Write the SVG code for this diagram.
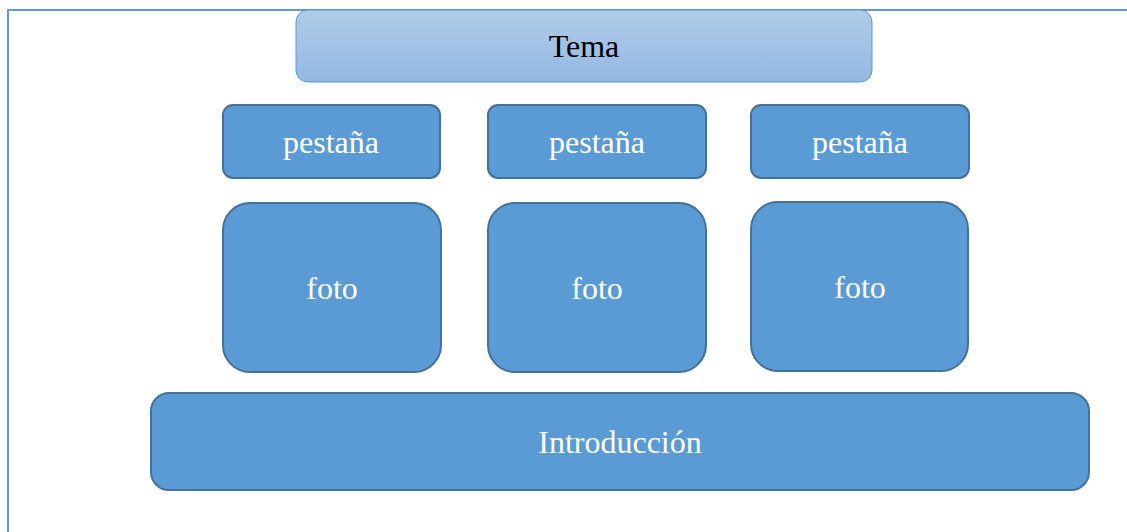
<svg xmlns="http://www.w3.org/2000/svg" width="1127" height="532" viewBox="0 0 1127 532">
<defs>
<linearGradient id="g" x1="0" y1="0" x2="0" y2="1">
<stop offset="0" stop-color="#b2cbe9"/>
<stop offset="1" stop-color="#93b8e3"/>
</linearGradient>
<style>
.n{fill:#5b9bd5;stroke:#41719c;stroke-width:2}
.t{font-family:"Liberation Serif","Times New Roman",serif;font-size:32px;text-anchor:middle;fill:#ffffff}
</style>
</defs>
<rect width="1127" height="532" fill="#ffffff"/>
<rect x="8" y="10" width="1140" height="540" fill="none" stroke="#5b9bd5" stroke-width="2"/>
<g id="tema">
<rect x="296" y="10" width="576" height="72" rx="12" fill="url(#g)" stroke="#5b9bd5" stroke-width="1"/>
<text class="t" x="584" y="57" style="fill:#000000">Tema</text>
</g>
<g id="pestana1">
<rect class="n" x="223" y="105" width="217" height="73" rx="10"/>
<text class="t" x="331" y="153">pestaña</text>
</g>
<g id="pestana2">
<rect class="n" x="488" y="105" width="218" height="73" rx="10"/>
<text class="t" x="597" y="153">pestaña</text>
</g>
<g id="pestana3">
<rect class="n" x="751" y="105" width="218" height="73" rx="10"/>
<text class="t" x="860" y="153">pestaña</text>
</g>
<g id="foto1">
<rect class="n" x="223" y="203" width="218" height="169" rx="27"/>
<text class="t" x="332" y="299">foto</text>
</g>
<g id="foto2">
<rect class="n" x="488" y="203" width="218" height="169" rx="27"/>
<text class="t" x="597" y="299">foto</text>
</g>
<g id="foto3">
<rect class="n" x="751" y="202" width="217" height="169" rx="27"/>
<text class="t" x="860" y="298">foto</text>
</g>
<g id="introduccion">
<rect class="n" x="151" y="393" width="938" height="97" rx="18"/>
<text class="t" x="620" y="453">Introducción</text>
</g>
<g id="connectors"></g>
</svg>
